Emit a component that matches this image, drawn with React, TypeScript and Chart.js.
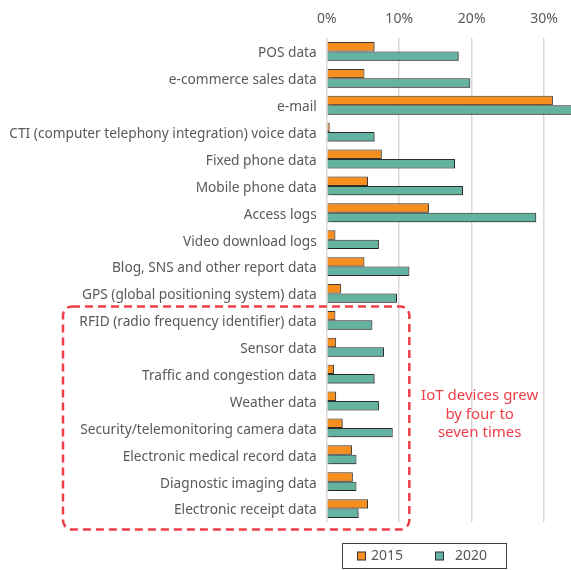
import React, { useEffect, useRef } from 'react';
import { Chart, registerables } from 'chart.js';

Chart.register(...registerables);

const categories = [
  'POS data',
  'e-commerce sales data',
  'e-mail',
  'CTI (computer telephony integration) voice data',
  'Fixed phone data',
  'Mobile phone data',
  'Access logs',
  'Video download logs',
  'Blog, SNS and other report data',
  'GPS (global positioning system) data',
  'RFID (radio frequency identifier) data',
  'Sensor data',
  'Traffic and congestion data',
  'Weather data',
  'Security/telemonitoring camera data',
  'Electronic medical record data',
  'Diagnostic imaging data',
  'Electronic receipt data',
];

const values2015 = [6.6, 5.2, 31.2, 0.4, 7.6, 5.7, 14.1, 1.2, 5.2, 2.0, 1.2, 1.3, 1.0, 1.3, 2.2, 3.5, 3.6, 5.7];
const values2020 = [18.2, 19.8, 35.0, 6.6, 17.7, 18.8, 28.9, 7.2, 11.4, 9.7, 6.3, 7.9, 6.6, 7.2, 9.1, 4.1, 4.1, 4.4];

const seriesLabels = ['2015', '2020'];
const xTickValues = [0, 10, 20, 30];
const annotationLines = ['IoT devices grew', 'by four to', 'seven times'];
const annotationFirstIndex = 10;

const ORANGE = '#F78F1E';
const TEAL = '#64B2A0';
const RED = '#EF3E48';
const FONT = '"Noto Sans", sans-serif';

export default function App() {
  const ref = useRef<HTMLCanvasElement | null>(null);

  useEffect(() => {
    document.body.style.margin = '0';
    const canvas = ref.current;
    if (!canvas) return;

    const shadowPlugin = {
      id: 'barShadow',
      beforeDatasetsDraw(chart: any) {
        const ctx = chart.ctx;
        ctx.save();
        ctx.shadowColor = 'rgba(0,0,0,0.35)';
        ctx.shadowOffsetX = 1;
        ctx.shadowOffsetY = 1;
        ctx.shadowBlur = 1.5;
      },
      afterDatasetsDraw(chart: any) {
        chart.ctx.restore();
      },
    };

    const overlayPlugin = {
      id: 'overlay',
      afterDraw(chart: any) {
        const ctx = chart.ctx;
        const xs = chart.scales.x;
        const ys = chart.scales.y;
        const area = chart.chartArea;
        const band = (area.bottom - area.top) / categories.length;

        // dashed annotation box
        const top = ys.getPixelForValue(annotationFirstIndex) - band / 2 - 0.5;
        const bottom = area.bottom + 7.5;
        const left = 63;
        const right = xs.getPixelForValue(11.4);
        const r = 9;
        ctx.save();
        ctx.strokeStyle = RED;
        ctx.lineWidth = 2.5;
        ctx.setLineDash([8, 5]);
        ctx.beginPath();
        ctx.moveTo(left + r, top);
        ctx.lineTo(right - r, top);
        ctx.arcTo(right, top, right, top + r, r);
        ctx.lineTo(right, bottom - r);
        ctx.arcTo(right, bottom, right - r, bottom, r);
        ctx.lineTo(left + r, bottom);
        ctx.arcTo(left, bottom, left, bottom - r, r);
        ctx.lineTo(left, top + r);
        ctx.arcTo(left, top, left + r, top, r);
        ctx.closePath();
        ctx.stroke();
        ctx.restore();

        // annotation text
        ctx.save();
        ctx.fillStyle = RED;
        ctx.font = '15px ' + FONT;
        ctx.textAlign = 'center';
        ctx.textBaseline = 'middle';
        const cx = xs.getPixelForValue(21.1);
        const cy = (ys.getPixelForValue(13) + ys.getPixelForValue(14)) / 2;
        const lh = 18.3;
        annotationLines.forEach((t, i) => {
          ctx.fillText(t, cx, cy + (i - 1) * lh);
        });
        ctx.restore();

        // legend box
        ctx.save();
        const lx = 342.5, ly = 543.5, lw = 164, lhh = 25;
        ctx.strokeStyle = '#404040';
        ctx.lineWidth = 1;
        ctx.strokeRect(lx, ly, lw, lhh);
        ctx.font = '14px ' + FONT;
        ctx.textBaseline = 'middle';
        ctx.fillStyle = '#595959';
        const items = [
          { box: 357.5, text: 371 },
          { box: 435.5, text: 455 },
        ];
        items.forEach((it, i) => {
          const midY = ly + lhh / 2;
          ctx.fillStyle = chart.data.datasets[i].backgroundColor;
          ctx.fillRect(it.box, midY - 4, 8, 8);
          ctx.strokeStyle = '#333';
          ctx.strokeRect(it.box, midY - 4, 8, 8);
          ctx.fillStyle = '#595959';
          ctx.fillText(chart.data.datasets[i].label, it.text, midY + 0.5);
        });
        ctx.restore();
      },
    };

    const chart = new Chart(canvas, {
      type: 'bar',
      data: {
        labels: categories,
        datasets: [
          {
            label: seriesLabels[0],
            data: values2015,
            backgroundColor: ORANGE,
            borderColor: '#3a3a3a',
            borderWidth: 1,
          },
          {
            label: seriesLabels[1],
            data: values2020,
            backgroundColor: TEAL,
            borderColor: '#2d2d2d',
            borderWidth: 1,
          },
        ],
      },
      options: {
        indexAxis: 'y',
        animation: false,
        responsive: false,
        layout: { padding: { left: 0, right: 0, top: 0, bottom: 48 } },
        datasets: { bar: { categoryPercentage: 0.7, barPercentage: 1 } },
        plugins: {
          legend: { display: false },
          tooltip: { enabled: false },
        },
        scales: {
          x: {
            position: 'top',
            min: 0,
            max: 33.7,
            afterBuildTicks(scale: any) {
              scale.ticks = xTickValues.map((v) => ({ value: v }));
            },
            afterFit(scale: any) {
              scale.height = 38;
            },
            ticks: {
              callback: (v: any) => v + '%',
              color: '#595959',
              font: { family: FONT, size: 14 },
              padding: 11,
            },
            grid: { color: '#d9d9d9', lineWidth: 1.5, drawTicks: false },
            border: { display: false },
          },
          y: {
            afterFit(scale: any) {
              scale.width = 326.7;
            },
            ticks: {
              color: '#595959',
              font: { family: FONT, size: 13.7 },
              padding: 10,
              labelOffset: 2,
              autoSkip: false,
            },
            grid: { display: false, drawTicks: false },
            border: { display: false },
          },
        },
      },
      plugins: [shadowPlugin, overlayPlugin],
    } as any);

    return () => chart.destroy();
  }, []);

  return (
    <div style={{ width: 571, height: 570 }}>
      <canvas ref={ref} width={571} height={570} />
    </div>
  );
}
